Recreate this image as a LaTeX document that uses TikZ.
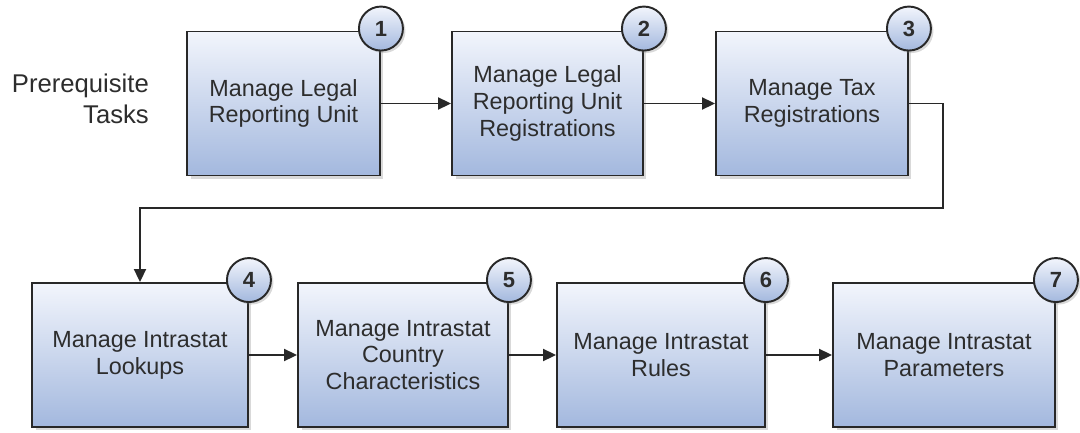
\documentclass[tikz,border=0pt]{standalone}
\usepackage{fontspec}
\setmainfont{Liberation Sans}
\usetikzlibrary{arrows.meta,positioning,shadows}
\definecolor{boxtop}{RGB}{242,245,252}
\definecolor{boxbot}{RGB}{163,184,222}
\definecolor{edgegray}{RGB}{40,40,40}
\definecolor{txtgray}{RGB}{45,45,45}
\tikzset{
  blk/.style={draw=edgegray, line width=1.1pt, top color=boxtop, bottom color=boxbot,
              minimum height=2.88cm, align=center, text=txtgray,
              font=\fontsize{13.3}{15.3}\selectfont,
              drop shadow={shadow xshift=0.07cm, shadow yshift=-0.07cm, opacity=0.3}},
  num/.style={circle, draw=edgegray, line width=1.1pt, top color=boxtop, bottom color=boxbot,
              minimum size=0.88cm, inner sep=0pt, text=txtgray,
              font=\fontsize{12.5}{12.5}\selectfont\bfseries,
              drop shadow={shadow xshift=0.05cm, shadow yshift=-0.05cm, opacity=0.3}},
  arr/.style={-{Triangle[length=2.6mm,width=2.4mm]}, edgegray, line width=1.1pt},
  ttl/.style={align=right, text=txtgray, font=\fontsize{14.6}{17.5}\selectfont},
}
\begin{document}
\begin{tikzpicture}[x=0.02cm, y=-0.02cm]
  \useasboundingbox (0,0) rectangle (1080,433);
  \node[ttl, anchor=east] (pre) at (155,99) {Prerequisite\\Tasks};
  \foreach \n/\cx/\cy/\w/\txt in {
      1/283.5/103.5/3.86/{Manage Legal\\Reporting Unit},
      2/547.5/103.5/3.82/{Manage Legal\\Reporting Unit\\Registrations},
      3/812/103.5/3.84/{Manage Tax\\Registrations},
      4/140/355/4.32/{Manage Intrastat\\Lookups},
      5/403/355/4.20/{Manage Intrastat\\Country\\Characteristics},
      6/661/355/4.16/{Manage Intrastat\\Rules},
      7/944/355/4.44/{Manage Intrastat\\Parameters}}{
    \node[blk, minimum width=\w cm] (b\n) at (\cx,\cy) {\txt};
    \node[num] (c\n) at ([yshift=0.04cm]b\n.north east) {\n};
  }
  \draw[arr] (b1) -- (b2);
  \draw[arr] (b2) -- (b3);
  \coordinate (turn) at (943,208);
  \draw[arr] (b3.east) -| (turn) -| (b4.north);
  \draw[arr] (b4) -- (b5);
  \draw[arr] (b5) -- (b6);
  \draw[arr] (b6) -- (b7);
\end{tikzpicture}
\end{document}
